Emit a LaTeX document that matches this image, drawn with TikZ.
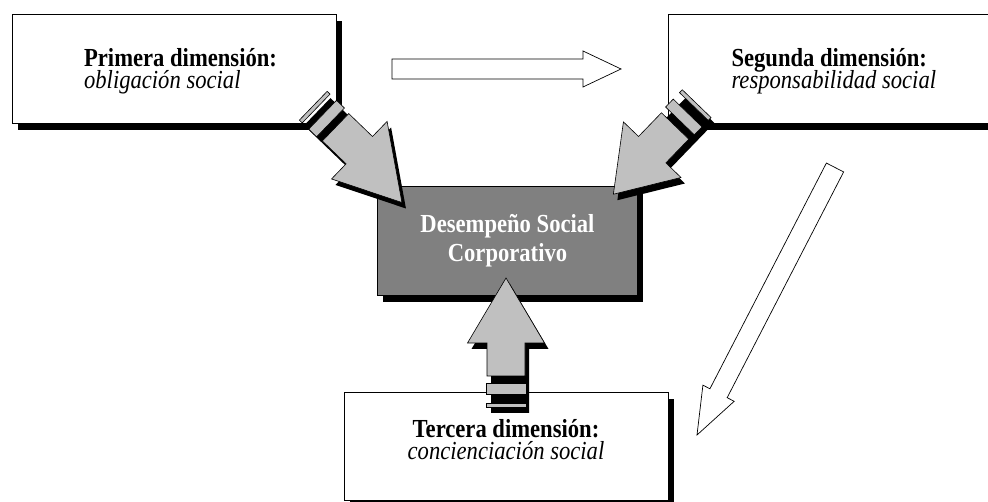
\documentclass[tikz,border=0pt]{standalone}
\usepackage{fontspec}
\setmainfont{Liberation Serif}[FakeStretch=0.87]
\usetikzlibrary{calc,shadows}

\definecolor{arrowgray}{RGB}{192,192,192}
\definecolor{coregray}{RGB}{128,128,128}

% Hollow block arrow from tail #1 to tip #2:
% shaft half width #3, head half width #4, head length #5
\newcommand\hollowarrow[5]{%
  \coordinate (#1-#2-base) at ($(#2)!#5!(#1)$);
  \draw[hollowarrowline]
    ($(#1)!#3!90:(#2)$) -- ($(#1-#2-base)!#3!90:(#2)$) --
    ($(#1-#2-base)!#4!90:(#2)$) -- (#2) --
    ($(#1-#2-base)!#4!-90:(#2)$) -- ($(#1-#2-base)!#3!-90:(#2)$) --
    ($(#1)!#3!-90:(#2)$) -- cycle;
}

% Grey block arrow with a segmented tail and a drop shadow.
% #1 name of the tip, #2 centre of the head base, #3 direction,
% #4 head length, #5 head half width, #6 sideways offset of the tip
\newcommand\tabarrow[6]{%
  \begin{scope}[shift={(4,-6)}]
    \begin{scope}[shift={#2},rotate=#3]
      \fill[black] (-64,-19) -- (0,-19) -- (0,-#5) -- (#4,#6) -- (0,#5) -- (0,19) -- (-64,19) -- cycle;
    \end{scope}
  \end{scope}
  \begin{scope}[shift={#2},rotate=#3]
    \draw[tabarrowline] (-33,-19) -- (0,-19) -- (0,-#5) -- (#4,#6) coordinate (#1) -- (0,#5) -- (0,19) -- (-33,19) -- cycle;
    \draw[tabarrowline] (-51,-20) rectangle (-40,20);
    \draw[tabarrowline] (-64,-20) rectangle (-60,20);
  \end{scope}
}

\begin{document}
\begin{tikzpicture}[x=1pt,y=1pt,
  dimbox/.style={draw=black, line width=0.8pt, fill=white,
    minimum width=324pt, minimum height=109pt, inner sep=0pt,
    general shadow={fill=black, shadow xshift=6pt, shadow yshift=-7pt}},
  corebox/.style={dimbox, fill=coregray, minimum width=260pt},
  dimtext/.style={font={\fontsize{26}{22}\selectfont\lineskiplimit=-100pt},
    inner sep=0pt, align=left},
  coretext/.style={dimtext, font={\fontsize{26}{28.4}\selectfont\bfseries\lineskiplimit=-100pt},
    align=center, text=white},
  hollowarrowline/.style={draw=black, line width=0.7pt, fill=white, line join=miter},
  tabarrowline/.style={draw=black, line width=0.6pt, fill=arrowgray, line join=miter},
]
\useasboundingbox (0,0) rectangle (988,502);
\clip (0,0) rectangle (988,502);

% the three dimensions and the central box
\node[dimbox] (dim1) at (174,433.5) {};
\node[dimbox] (dim2) at (830,433.5) {};
\node[dimbox, minimum height=108pt] (dim3) at (506,56) {};
\node[corebox] (core) at (507,261.5) {};

% their texts, placed by the baseline of the last line
\node[dimtext, anchor=base west] (dim1t) at ([shift={(72.3,-74.5)}]dim1.north west)
  {\textbf{Primera dimensión:}\\\textit{obligación social}};
\node[dimtext, anchor=base west] (dim2t) at ([shift={(63.7,-74.5)}]dim2.north west)
  {\textbf{Segunda dimensión:}\\\textit{responsabilidad social}};
\node[dimtext, align=center, anchor=base] (dim3t) at ([shift={(0,-68.3)}]dim3.north)
  {\textbf{Tercera dimensión:}\\\textit{concienciación social}};
\node[coretext, anchor=base] (coret) at ([shift={(0.5,-75.7)}]core.north)
  {Desempeño Social\\Corporativo};

% sequence of the dimensions
\coordinate (h1) at (392,433);
\coordinate (h2) at (621,433);
\hollowarrow{h1}{h2}{10pt}{18pt}{38pt}
\coordinate (d1) at (835,334.5);
\coordinate (d2) at (697,67);
\hollowarrow{d1}{d2}{9.7pt}{17.6pt}{47pt}

% contributions to the central box
\tabarrow{tipA}{(359.3,351.8)}{-44}{67}{40}{-8}
\tabarrow{tipB}{(652.2,352.3)}{-134}{59}{40}{3}
\tabarrow{tipC}{(506,159)}{90}{65}{38.5}{0}
\end{tikzpicture}
\end{document}
